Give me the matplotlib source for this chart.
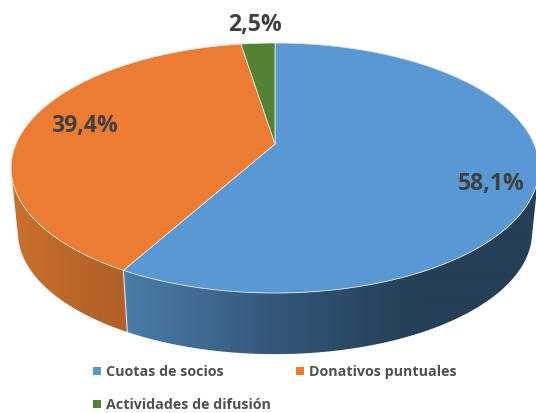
import numpy as np
import matplotlib
matplotlib.use("Agg")
import matplotlib.pyplot as plt
from matplotlib.patches import Polygon

categories = ["Cuotas de socios", "Donativos puntuales", "Actividades de difusión"]
shares = [58.1, 39.4, 2.5]
labels = ["58,1%", "39,4%", "2,5%"]
colors = ["#5A98D4", "#EB7C31", "#548235"]

plt.rcParams["font.family"] = ["Open Sans", "DejaVu Sans"]
fig = plt.figure(figsize=(5.36, 4.14), dpi=100)
ax = fig.add_axes([0, 0, 1, 1])
ax.set_xlim(0, 536)
ax.set_ylim(414, 0)
ax.axis("off")

CX, CY, A, B, K = 275.0, 145.0, 259.0, 120.4, 0.192
SCALE, CY2 = 0.974, 210.0

def project(theta, bottom=False):
    x, y = np.sin(theta), np.cos(theta)
    d = 1 + K * y
    s = SCALE if bottom else 1.0
    c = CY2 if bottom else CY
    return CX + s * A * x / d, c - s * B * y / d

edges = np.deg2rad(np.concatenate([[0], np.cumsum(shares)]) * 3.6)

# side walls: a horizontal colour ramp clipped to each wall's outline
side_stops = {
    0: ([127, 200, 270, 350, 420], ["#4A7CA8", "#3F6B93", "#34587B", "#2A4A67", "#253F57"]),
    1: ([15, 60, 125], ["#CB702C", "#BE682A", "#AF5F27"]),
}
px = np.arange(0, 540)
for i, (stops, cols) in side_stops.items():
    t = np.linspace(edges[i], edges[i + 1], 600)
    t = t[np.cos(t) <= -0.22]
    xt, yt = project(t)
    xb, yb = project(t, True)
    outline = np.vstack([np.column_stack([xt, yt]), np.column_stack([xb, yb])[::-1]])
    rgb = np.array([matplotlib.colors.to_rgb(c) for c in cols])
    ramp = np.stack([np.interp(px, stops, rgb[:, k]) for k in range(3)], axis=1)[None, :, :]
    clip = Polygon(outline, closed=True, transform=ax.transData)
    im = ax.imshow(ramp, extent=(0, 540, 414, 0), aspect="auto", interpolation="bilinear", zorder=1)
    im.set_clip_path(clip)
ax.set_xlim(0, 536)
ax.set_ylim(414, 0)

# divider on the front wall between the blue and orange slices
xa, ya = project(edges[1])
xb, yb = project(edges[1], True)
ax.plot([xa, xb], [ya, yb], color="#E4E4E4", lw=0.8, zorder=2)

# top faces
for i in range(3):
    t = np.linspace(edges[i], edges[i + 1], 300)
    xs, ys = project(t)
    pts = np.vstack([[CX, CY], np.column_stack([xs, ys])])
    ax.add_patch(Polygon(pts, closed=True, fc=colors[i], ec="#E4E4E4", lw=0.6,
                         joinstyle="round", zorder=3))

# data labels
label_pos = [(491, 184), (84, 126), (255, 25)]
for text, (x, y) in zip(labels, label_pos):
    ax.text(x, y, text, ha="center", va="center", fontsize=16.6, fontweight="bold",
            color="#404040", zorder=5)

# legend
legend_pos = [(97, 372), (300, 372), (97, 405)]
for name, col, (x, y) in zip(categories, colors, legend_pos):
    ax.scatter([x], [y], marker="s", s=38, color=col, linewidths=0, zorder=5)
    ax.text(x + 9, y, name, ha="left", va="center", fontsize=10.3, fontweight="bold",
            color="#505050", zorder=5)

fig.savefig("out.png", dpi=100)
